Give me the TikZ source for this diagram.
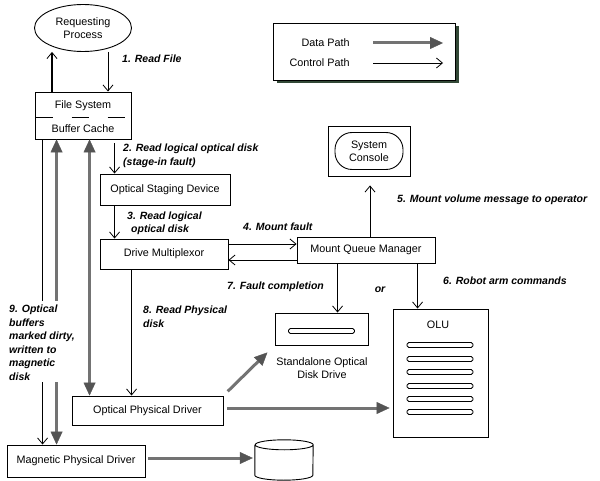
\documentclass[tikz,border=0pt]{standalone}
\usepackage{fontspec}
\setmainfont{Liberation Sans}
\usetikzlibrary{
    calc,
    arrows.meta,
    shapes.geometric,
    shadows
}
\definecolor{datagray}{gray}{0.45}
\definecolor{tipgray}{gray}{0.33}
\definecolor{shadowgreen}{RGB}{50,72,54}
\tikzset{
    ctip/.tip={Straight Barb[length=6pt,width=10pt,line width=0.8pt]},
    dtip/.tip={Triangle[length=13pt,width=12pt,line width=0.4pt,color=tipgray]},
    box/.style={draw, line width=0.9pt, inner sep=0pt, align=center, font=\fontsize{10.8}{13}\selectfont},
    lbl/.style={inner sep=0pt, align=left, font=\fontsize{10.5}{13.5}\selectfont\bfseries\itshape},
    ctrl/.style={line width=0.8pt, -{ctip}},
    data/.style={draw=datagray, line width=3pt, -{dtip}},
    slot/.style={draw, line width=0.8pt, rounded corners=1.8pt, minimum width=66pt, minimum height=5pt, inner sep=0pt},
}

\begin{document}
\begin{tikzpicture}[x=1pt, y=-1pt]
    \useasboundingbox (0,0) rectangle (600,481);

    \draw (83,28) node[box, ellipse, minimum width=97pt, minimum height=47pt](req){Requesting\\Process};
    \draw (83,115.5) node[box, minimum width=96pt, minimum height=47pt](fs){};
    \draw (83,106) node[box, draw=none](fsname){File System};
    \draw (83,129) node[box, draw=none](cache){Buffer Cache};
    \draw[line width=0.9pt, dash pattern=on 17pt off 19pt] ([xshift=1pt,yshift=-1.5pt]fs.west) -- ([yshift=-1.5pt]fs.east);

    \draw (165,189.5) node[box, minimum width=130pt, minimum height=31pt](osd){Optical Staging Device};
    \draw (164,254) node[box, minimum width=128pt, minimum height=30pt](dm){Drive Multiplexor};
    \draw (366,250) node[box, minimum width=138pt, minimum height=26pt](mqm){Mount Queue Manager};
    \draw (369,151) node[box, minimum width=82pt, minimum height=50pt](sc){};
    \draw (369,151) node[box, rounded corners=17pt, minimum width=68pt, minimum height=37pt](console){System\\Console};
    \draw (321.5,329) node[box, minimum width=93pt, minimum height=32pt](sa){};
    \draw (321.5,331) node[slot](saslot){};
    \draw (322,368) node[box, draw=none](salabel){Standalone Optical\\Disk Drive};
    \draw (440.5,373) node[box, minimum width=95pt, minimum height=128pt](olu){};
    \draw (438,325) node[box, draw=none](oluname){OLU};
    \foreach \y [count=\i] in {345,359,372,386,399,412}
        \draw (440,\y) node[slot](bar\i){};
    \draw (147.5,410.5) node[box, minimum width=151pt, minimum height=29pt](opd){Optical Physical Driver};
    \draw (76,461) node[box, minimum width=138pt, minimum height=32pt](mpd){Magnetic Physical Driver};
    \draw (284,460) node[minimum width=58pt, minimum height=40pt, inner sep=0pt](disk){};
    \draw[line width=0.9pt] ([yshift=-5pt]disk.north west) -- ([yshift=5pt]disk.south west)
        arc[start angle=180, end angle=360, x radius=29pt, y radius=5pt]
        -- ([yshift=-5pt]disk.north east)
        arc[start angle=0, end angle=360, x radius=29pt, y radius=5pt];

    \draw (364,51.5) node[box, fill=white, minimum width=182pt, minimum height=57pt,
        drop shadow={shadow xshift=4pt, shadow yshift=-3pt, fill=shadowgreen, opacity=1}](legend){};
    \draw (350,43) node[box, draw=none, anchor=east](datakey){Data Path};
    \draw (350,63) node[box, draw=none, anchor=east](ctrlkey){Control Path};
    \coordinate (dataend) at (443,43);
    \coordinate (ctrlend) at (443,63);
    \draw[data] ([xshift=23pt]datakey.east) -- (dataend);
    \draw[ctrl] ([xshift=23pt]ctrlkey.east) -- (ctrlend);

    \draw (122,59) node[lbl, anchor=west](l1){1. Read File};
    \draw (123,156) node[lbl, anchor=west](l2){2. Read logical optical disk\\(stage-in fault)};
    \draw (127,223.5) node[lbl, anchor=west](l3){3. Read logical\\\hspace*{4pt}optical disk};
    \draw (243,227) node[lbl, anchor=west](l4){4. Mount fault};
    \draw (397,200) node[lbl, anchor=west](l5){5. Mount volume message to operator};
    \draw (443,281) node[lbl, anchor=west](l6){6. Robot arm commands};
    \draw (227,287) node[lbl, anchor=west](l7){7. Fault completion};
    \draw (380,290) node[lbl](orlabel){or};
    \draw (143,316.5) node[lbl, anchor=west](l8){8. Read Physical\\disk};
    \draw (9,342.5) node[lbl, anchor=west](note){9. Optical\\buffers\\marked dirty,\\written to\\magnetic\\disk};

    \draw[ctrl, line width=1.3pt] ([xshift=-31pt]fs.north) -- ([xshift=-31pt]fs.north |- req.south);
    \draw[ctrl] ([xshift=25pt]req.south) -- ([xshift=25pt]fs.north);
    \draw[ctrl] ([xshift=15pt, yshift=-4pt]osd.north west |- fs.south) -- ([xshift=15pt]osd.north west);
    \draw[ctrl] ([xshift=15pt]osd.south west) -- ([xshift=15pt]dm.north west);
    \draw[ctrl] ([yshift=10pt]dm.east) -- ([yshift=10pt]dm.east -| mqm.west);
    \draw[ctrl] ([yshift=-6pt]dm.east -| mqm.west) -- ([yshift=-6pt]dm.east);
    \draw[ctrl, shorten >=9pt] ([xshift=4pt]mqm.north) -- ([xshift=4pt]mqm.north |- sc.south);
    \draw[ctrl] ([xshift=41pt]mqm.south west) -- ([xshift=41pt]mqm.south west |- sa.north);
    \draw[ctrl] ([xshift=121pt]mqm.south west) -- ([xshift=121pt]mqm.south west |- olu.north);
    \draw[ctrl] ([xshift=32pt]dm.south west) -- ([xshift=32pt]dm.south west |- opd.north);

    \draw[line width=0.8pt, shorten >=4pt] ([xshift=8pt]fs.south west) -- ([xshift=8pt]fs.south west |- note.north);
    \draw[ctrl, shorten <=2pt] ([xshift=8pt]fs.south west |- note.south) -- ([xshift=8pt]fs.south west |- mpd.north);
    \draw[data, shorten <=4pt] ([xshift=22pt]fs.south west |- note.north) -- ([xshift=22pt]fs.south west);
    \draw[data, shorten <=2pt] ([xshift=22pt]fs.south west |- note.south) -- ([xshift=22pt]fs.south west |- mpd.north);
    \draw[data, {dtip}-{dtip}] ([xshift=55pt]fs.south west) -- ([xshift=55pt]fs.south west |- opd.north);
    \draw[data, shorten <=6pt, shorten >=10pt] (opd.north east) -- (sa.south west);
    \draw[data, shorten <=4pt, shorten >=3pt] ([yshift=2.5pt]opd.east) -- ([yshift=2.5pt]opd.east -| olu.west);
    \draw[data, shorten <=3pt, shorten >=2pt] ([yshift=3pt]mpd.east) -- ([yshift=3pt]mpd.east -| disk.west);
\end{tikzpicture}
\end{document}
